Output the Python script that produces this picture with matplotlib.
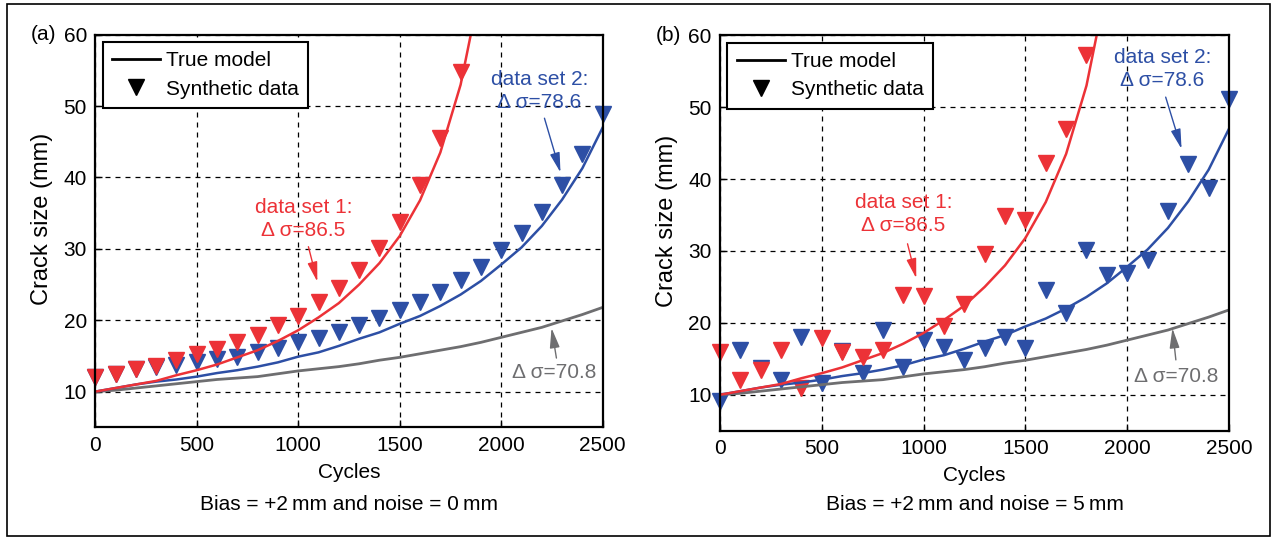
import matplotlib
matplotlib.use('Agg')
import matplotlib.pyplot as plt
from matplotlib.lines import Line2D
from matplotlib.patches import Rectangle

plt.rcParams['font.family'] = ['Liberation Sans', 'DejaVu Sans']

# ---------------- data ----------------
cycles = [0, 100, 200, 300, 400, 500, 600, 700, 800, 900, 1000, 1100, 1200,
          1300, 1400, 1500, 1600, 1700, 1800, 1900, 2000, 2100, 2200, 2300,
          2400, 2500]

# true models (Δσ = 86.5, 78.6, 70.8)
model_red = [10.0, 10.5, 11.0, 11.5, 12.3, 13.0, 13.8, 14.8, 15.8, 17.1, 18.6,
             20.4, 22.4, 25.0, 28.0, 31.8, 36.8, 43.5, 53.0, 67.0]
model_blue = [10.0, 10.5, 11.0, 11.4, 11.7, 12.1, 12.6, 13.0, 13.5, 14.1, 14.9,
              15.5, 16.4, 17.4, 18.3, 19.5, 20.6, 22.0, 23.6, 25.5, 27.8, 30.2,
              33.2, 36.9, 41.3, 47.0]
model_gray = [10.0, 10.2, 10.5, 10.8, 11.1, 11.4, 11.7, 11.9, 12.1, 12.5, 12.9,
              13.2, 13.5, 13.9, 14.4, 14.8, 15.3, 15.8, 16.3, 16.9, 17.6, 18.3,
              19.0, 19.9, 20.8, 21.8]

# (a) bias = +2 mm, noise = 0 mm
data_a_red = [12.0, 12.4, 13.1, 13.6, 14.4, 15.2, 16.0, 16.9, 18.0, 19.3, 20.6,
              22.5, 24.5, 27.1, 30.1, 33.8, 39.0, 45.5, 54.8]
data_a_blue = [12.0, 12.5, 13.1, 13.4, 13.7, 14.2, 14.6, 14.9, 15.5, 16.1, 16.9,
               17.5, 18.4, 19.4, 20.3, 21.5, 22.6, 24.0, 25.6, 27.5, 29.8, 32.2,
               35.2, 38.9, 43.3, 48.9]

# (b) bias = +2 mm, noise = 5 mm
data_b_red = [15.9, 12.1, 13.5, 16.2, 10.9, 17.9, 16.0, 15.3, 16.2, 23.9, 23.7,
              19.6, 22.6, 29.6, 34.9, 34.3, 42.2, 47.0, 57.2]
data_b_blue = [9.2, 16.25, 13.7, 12.1, 18.0, 11.6, 16.1, 13.0, 19.0, 13.9, 17.6,
               16.7, 14.9, 16.5, 18.1, 16.5, 24.6, 21.4, 30.1, 26.7, 26.9, 28.75,
               35.5, 42.1, 38.7, 51.2]

x_ticks = [0, 500, 1000, 1500, 2000, 2500]
y_ticks = [10, 20, 30, 40, 50, 60]
panel_tags = ['(a)', '(b)']
captions = ['Bias = +2\u2009mm and noise = 0\u2009mm',
            'Bias = +2\u2009mm and noise = 5\u2009mm']
label_ds1 = 'data set 1:\n\u0394 \u03c3=86.5'
label_ds2 = 'data set 2:\n\u0394 \u03c3=78.6'
label_ds3 = '\u0394 \u03c3=70.8'

RED = '#EC3237'
BLUE = '#2D4FA5'
GRAY = '#6E6E70'
FS = 15
MS = 11

W, H = 1277, 540
fig = plt.figure(figsize=(W / 100, H / 100), dpi=100)

boxes = [(95.3, 34.7, 602.7, 427.3), (720.0, 35.3, 1229.0, 430.7)]
axes = []
for (x0, y0, x1, y1) in boxes:
    ax = fig.add_axes([x0 / W, (H - y1) / H, (x1 - x0) / W, (y1 - y0) / H])
    axes.append(ax)

# annotation positions in data coordinates (text centre, arrow tail, arrow tip)
ann = [
    dict(ds1=(1025, 34.2), ds1_tail=(1050, 30.3), ds1_tip=(1094, 25.4),
         ds2=(2188, 52.1), ds2_tail=(2213, 48.3), ds2_tip=(2292, 40.7),
         ds3=(2262, 12.65), ds3_tail=(2272, 14.7), ds3_tip=(2248, 18.9)),
    dict(ds1=(901, 35.1), ds1_tail=(921, 31.0), ds1_tip=(964, 26.2),
         ds2=(2173, 55.3), ds2_tail=(2189, 51.4), ds2_tip=(2267, 44.2),
         ds3=(2239, 12.5), ds3_tail=(2239, 14.85), ds3_tip=(2222, 19.25)),
]

datasets = [(data_a_red, data_a_blue), (data_b_red, data_b_blue)]

for i, ax in enumerate(axes):
    dred, dblue = datasets[i]
    ax.plot(cycles[:len(dblue)], dblue, linestyle='none', marker='v',
            color=BLUE, markersize=MS, zorder=3, clip_on=False)
    ax.plot(cycles[:len(dred)], dred, linestyle='none', marker='v',
            color=RED, markersize=MS, zorder=3, clip_on=False)
    ax.plot(cycles[:len(model_gray)], model_gray, color=GRAY, lw=2.0, zorder=4)
    ax.plot(cycles[:len(model_blue)], model_blue, color=BLUE, lw=1.8, zorder=4)
    ax.plot(cycles[:len(model_red)], model_red, color=RED, lw=1.8, zorder=4)

    ax.set_xlim(0, 2500)
    ax.set_ylim(5, 60)
    ax.set_xticks(x_ticks)
    ax.set_yticks(y_ticks)
    ax.grid(True, color='black', linestyle=(0, (4, 4)), linewidth=0.9)
    ax.set_axisbelow(True)
    for s in ax.spines.values():
        s.set_linewidth(1.6)
        s.set_zorder(5)
    ax.tick_params(direction='in', length=5, width=1.0, labelsize=FS, pad=6)
    ax.set_xlabel('Cycles', fontsize=FS, labelpad=6)
    ax.set_ylabel('Crack size (mm)', fontsize=17, labelpad=6)
    ax.yaxis.set_label_coords(-0.083, 0.53)

    handles = [Line2D([], [], color='black', lw=2.0),
               Line2D([], [], color='black', marker='v', linestyle='none',
                      markersize=MS)]
    leg = ax.legend(handles, ['True model', 'Synthetic data'], loc='upper left',
                    fontsize=FS, frameon=True, fancybox=False, framealpha=1,
                    edgecolor='black', borderaxespad=0.35, handlelength=2.3,
                    handletextpad=0.3, borderpad=0.45, labelspacing=0.45)
    leg.get_frame().set_linewidth(1.5)
    leg.set_zorder(10)

    a = ann[i]
    ax.text(*a['ds1'], label_ds1, color=RED, fontsize=FS, ha='center',
            va='center', linespacing=1.25, zorder=6)
    ax.text(*a['ds2'], label_ds2, color=BLUE, fontsize=FS, ha='center',
            va='center', linespacing=1.25, zorder=6)
    ax.text(*a['ds3'], label_ds3, color=GRAY, fontsize=FS, ha='center',
            va='center', zorder=6)
    for key, col in (('ds1', RED), ('ds2', BLUE), ('ds3', GRAY)):
        ax.annotate('', xy=a[key + '_tip'], xytext=a[key + '_tail'],
                    arrowprops=dict(arrowstyle='-|>,head_length=1.2,head_width=0.3',
                                    color=col, lw=1.0, shrinkA=0, shrinkB=0),
                    zorder=6)

    x0, y0, x1, y1 = boxes[i]
    fig.text((x0 - 52) / W, 1 - y0 / H, panel_tags[i], fontsize=FS,
             ha='center', va='center')
    fig.text((x0 + x1) / 2 / W, 1 - 504 / H, captions[i], fontsize=FS,
             ha='center', va='center')

fig.patches.append(Rectangle((7 / W, 4 / H), (1270 - 7) / W, (536 - 4) / H,
                             transform=fig.transFigure, fill=False,
                             edgecolor='black', linewidth=1.2))

fig.savefig('out.png', dpi=100)
